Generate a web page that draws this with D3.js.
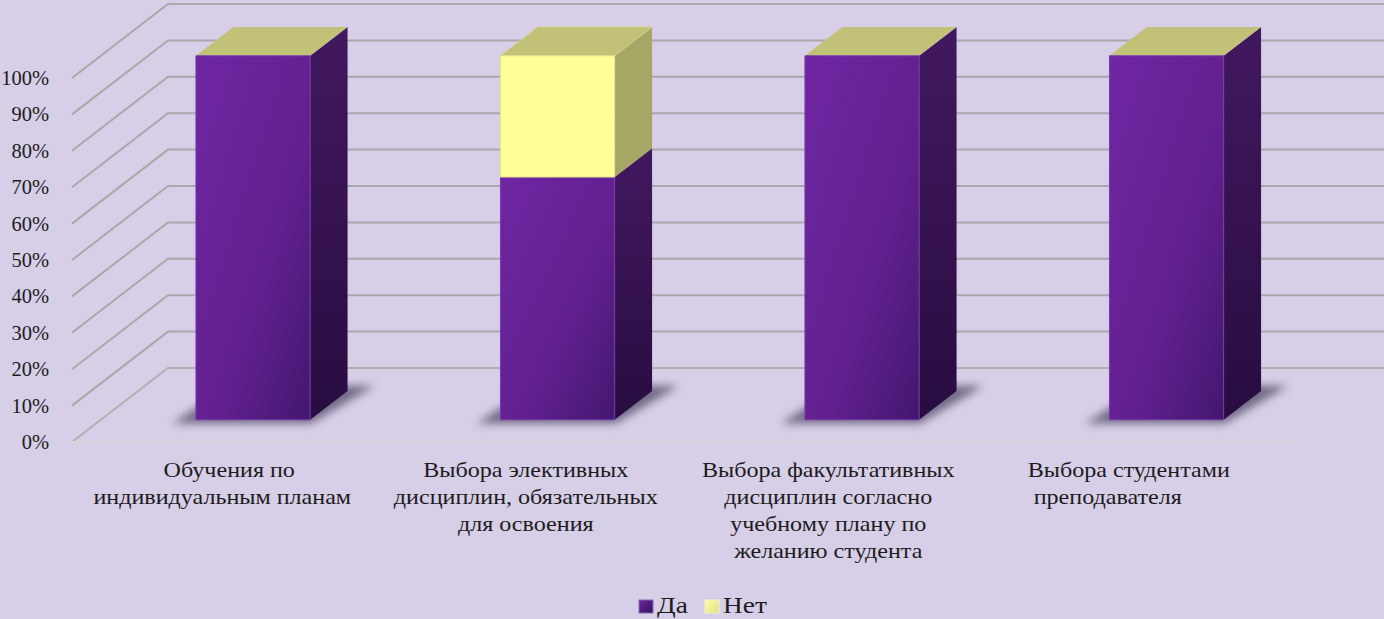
<!DOCTYPE html>
<html>
<head>
<meta charset="utf-8">
<script src="https://cdn.jsdelivr.net/npm/d3@7"></script>
<style>
  html, body { margin: 0; padding: 0; background: #d7cee8; overflow: hidden; }
  text { font-family: "Liberation Serif", serif; fill: #1c1c1c; }
</style>
</head>
<body>
<div id="chart"></div>
<script>
const categories = [
  ['Обучения по', 'индивидуальным планам'],
  ['Выбора элективных', 'дисциплин, обязательных', 'для освоения'],
  ['Выбора факультативных', 'дисциплин согласно', 'учебному плану по', 'желанию студента'],
  ['Выбора студентами', 'преподавателя']
];
const seriesNames = ['Да', 'Нет'];
const yesValues = [100, 66.7, 100, 100];
const noValues = [0, 33.3, 0, 0];
const yTicks = [0, 10, 20, 30, 40, 50, 60, 70, 80, 90, 100];

const width = 1384, height = 619;
const depth = { dx: 96, dy: -74 };   // oblique offset from front to back wall
const barNear = 0.3, barFar = 0.69;  // where the bars sit along the floor depth

const rows = categories.map((c, i) => ({ i, 'Да': yesValues[i], 'Нет': noValues[i] }));
const stacked = d3.stack().keys(seriesNames)(rows);

const x = d3.scaleBand().domain(d3.range(categories.length)).range([72, 1290]).paddingInner(0.625).paddingOuter(0.3125);
const y = d3.scaleLinear().domain([0, 100]).range([442, 78]);

const project = (px, v, d) => [px + depth.dx * d, y(v) + depth.dy * d];

const svg = d3.select('#chart').append('svg')
  .attr('width', width).attr('height', height)
  .attr('viewBox', `0 0 ${width} ${height}`)
  .style('display', 'block');

const defs = svg.append('defs');
function gradient(id, x2, y2, stops) {
  const g = defs.append('linearGradient').attr('id', id)
    .attr('x1', 0).attr('y1', 0).attr('x2', x2).attr('y2', y2);
  stops.forEach(s => g.append('stop').attr('offset', s[0]).attr('stop-color', s[1]));
}
gradient('frontYes', 1, 1, [[0, '#6e26a2'], [0.6, '#61208f'], [1, '#43176f']]);
gradient('sideYes', 0, 1, [[0, '#42185f'], [1, '#280c40']]);
gradient('swatchYes', 1, 1, [[0, '#6e26a2'], [1, '#35105c']]);
gradient('swatchNo', 1, 1, [[0, '#ffffa6'], [1, '#dede85']]);
defs.append('filter').attr('id', 'shadowBlur')
  .attr('x', '-20%').attr('y', '-40%').attr('width', '140%').attr('height', '180%')
  .append('feGaussianBlur').attr('stdDeviation', 4);

svg.append('rect').attr('width', width).attr('height', height).attr('fill', '#d7cee8');

const line = d3.line();

// grid on left wall and back wall
svg.append('g').selectAll('path')
  .data(yTicks)
  .join('path')
  .attr('d', v => line([project(72, v, 0), project(72, v, 1), project(1290, v, 1)]))
  .attr('fill', 'none')
  .attr('stroke', v => v === 0 ? '#b2b0b0' : '#aaa8a8')
  .attr('stroke-width', 2);

// front edge of floor
svg.append('path')
  .attr('d', line([project(72, 0, 0), project(1290, 0, 0)]))
  .attr('stroke', '#d4d3d6').attr('stroke-width', 2).attr('fill', 'none');

// shadows
svg.append('g').selectAll('path')
  .data(rows)
  .join('path')
  .attr('d', d => {
    const x0 = x(d.i), x1 = x0 + x.bandwidth();
    return line([
      project(x0 - 19, 0, barNear - 0.05),
      project(x1 + 6, 0, barNear - 0.05),
      project(x1 + 20, 0, barFar + 0.07),
      project(x0 - 10, 0, barFar + 0.07)
    ]) + 'Z';
  })
  .attr('fill', '#4a4460').attr('opacity', 0.72)
  .attr('filter', 'url(#shadowBlur)');

// bars, bottom series first
const colors = {
  'Да': { front: 'url(#frontYes)', side: 'url(#sideYes)', top: '#c1c177', edge: '#7a3bab' },
  'Нет': { front: '#ffff99', side: '#a6a665', top: '#c1c177', edge: '#e2e28a' }
};
const segs = stacked.flatMap(s => s.map(p => ({ key: s.key, i: p.data.i, v0: p[0], v1: p[1] })))
  .filter(d => d.v1 > d.v0);

const bars = svg.append('g').selectAll('g').data(segs).join('g');

bars.append('path')
  .attr('d', d => {
    const x1 = x(d.i) + x.bandwidth();
    return line([project(x1, d.v0, barNear), project(x1, d.v1, barNear),
      project(x1, d.v1, barFar), project(x1, d.v0, barFar)]) + 'Z';
  })
  .attr('fill', d => colors[d.key].side);

bars.filter(d => d.v1 === 100).append('path')
  .attr('d', d => {
    const x0 = x(d.i), x1 = x0 + x.bandwidth();
    return line([project(x0, 100, barNear), project(x0, 100, barFar),
      project(x1, 100, barFar), project(x1, 100, barNear)]) + 'Z';
  })
  .attr('fill', d => colors[d.key].top)
  .attr('stroke', d => d.key === 'Нет' ? '#d3d384' : 'none')
  .attr('stroke-width', 1);

bars.append('path')
  .attr('d', d => {
    const x0 = x(d.i), x1 = x0 + x.bandwidth();
    return line([project(x0, d.v0, barNear), project(x0, d.v1, barNear),
      project(x1, d.v1, barNear), project(x1, d.v0, barNear)]) + 'Z';
  })
  .attr('fill', d => colors[d.key].front)
  .attr('stroke', d => colors[d.key].edge)
  .attr('stroke-width', 1);

// y axis labels
const yAxis = d3.axisLeft(y).tickValues(yTicks).tickSize(0).tickFormat(d => d + '%');
svg.append('g')
  .attr('transform', 'translate(52,0)')
  .call(yAxis)
  .call(g => g.select('.domain').remove())
  .selectAll('text')
  .attr('font-size', 20.5)
  .style('font-family', '"Liberation Serif", serif');

// category labels
const labelX = i => x(i) + x.bandwidth() / 2;
const labelNudge = [[5, -2], [-3, -3, -3], [-5, -5, -5, -5], [-9, -30]];
const labels = svg.append('g').selectAll('g').data(categories).join('g');
labels.selectAll('text')
  .data((d, i) => d.map((t, j) => ({ t, i, j })))
  .join('text')
  .attr('transform', d => `translate(${labelX(d.i) + labelNudge[d.i][d.j]},${477 + d.j * 27}) scale(1.147,1)`)
  .attr('text-anchor', 'middle')
  .attr('font-size', 21)
  .text(d => d.t);

// legend
const legendX = d3.scaleOrdinal().domain(seriesNames).range([639, 705]);
const legend = svg.append('g').selectAll('g').data(seriesNames).join('g')
  .attr('transform', d => `translate(${legendX(d)},600)`);
legend.append('rect')
  .attr('width', 14).attr('height', 13)
  .attr('fill', d => d === 'Да' ? 'url(#swatchYes)' : 'url(#swatchNo)')
  .attr('stroke', d => d === 'Да' ? '#8a6ab0' : '#f3f3c0').attr('stroke-width', 1);
legend.append('text')
  .attr('transform', 'translate(18,13) scale(1.19,1)')
  .attr('font-size', 23)
  .text(d => d);
</script>
</body>
</html>
